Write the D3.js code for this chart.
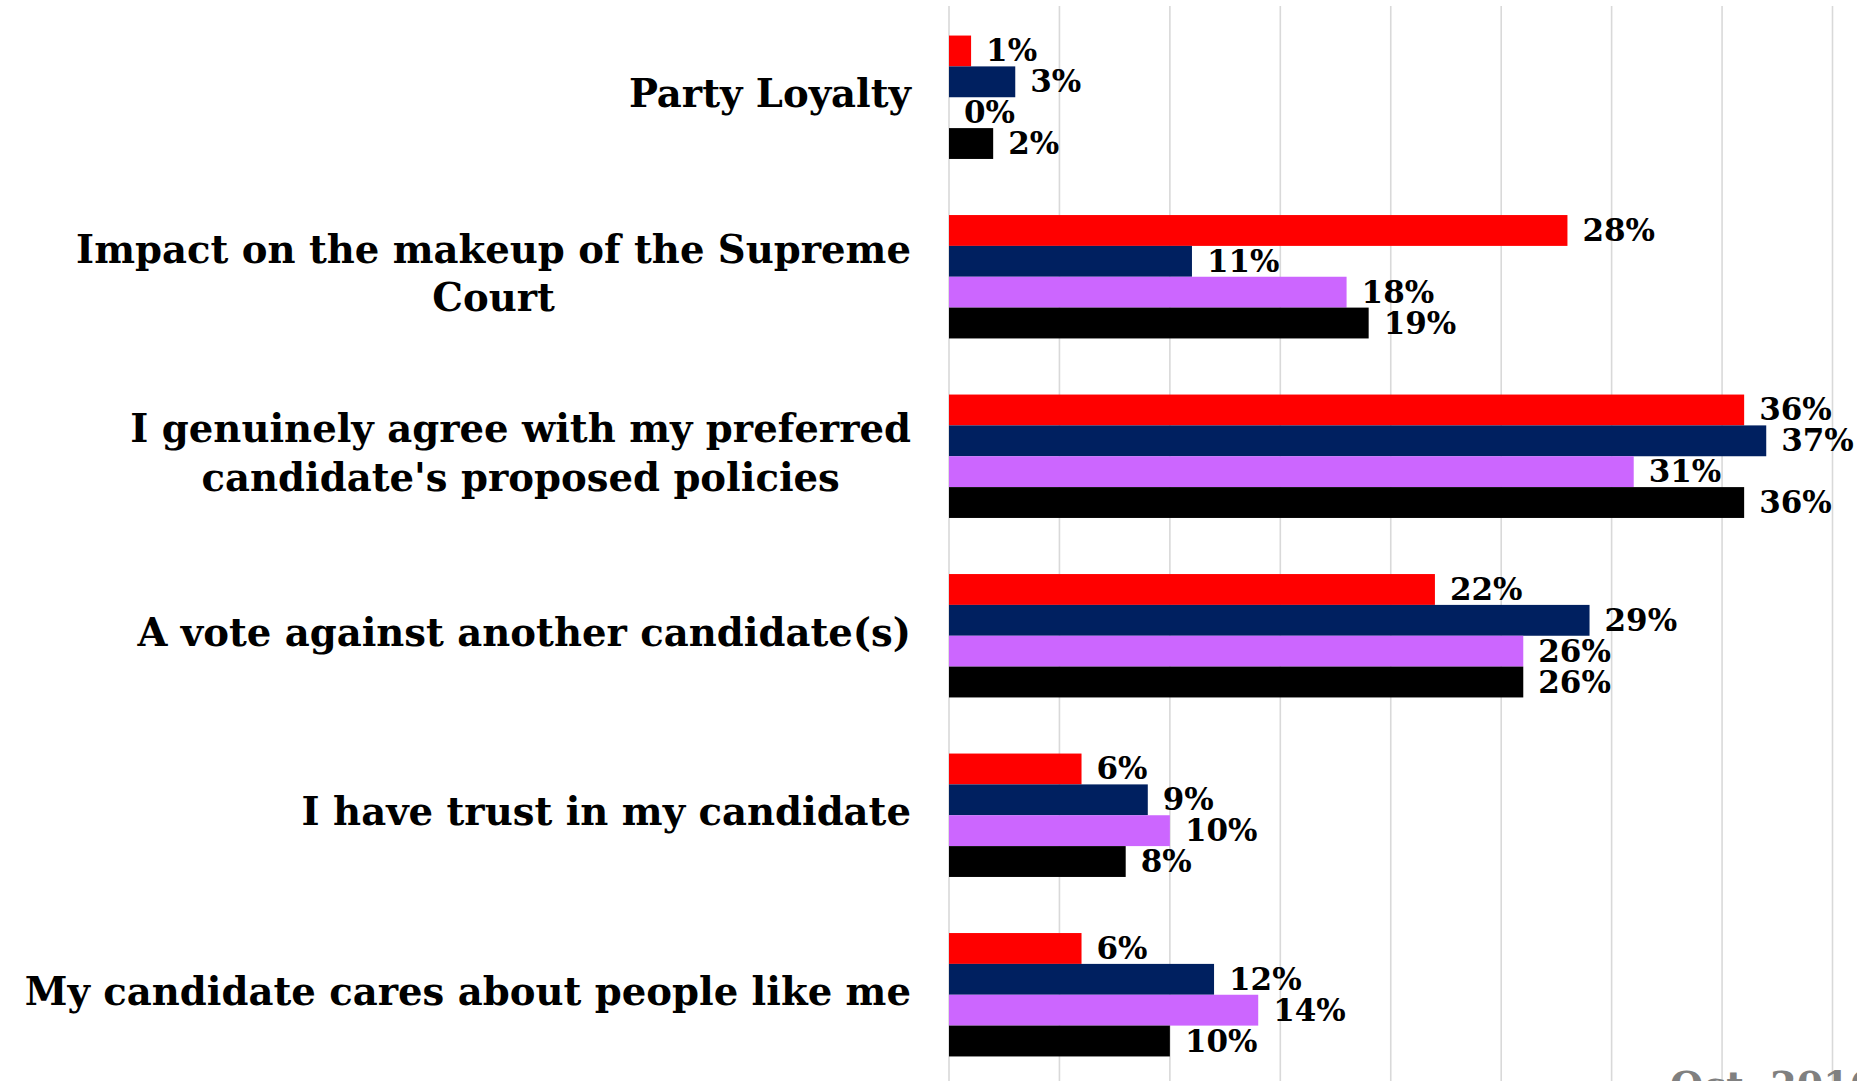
<!DOCTYPE html>
<html>
<head>
<meta charset="utf-8">
<script src="https://cdn.jsdelivr.net/npm/d3@7"></script>
<style>
  html, body { margin: 0; padding: 0; background: #fff; overflow: hidden; }
  svg { display: block; }
</style>
</head>
<body>
<svg id="chart" width="1857" height="1081"></svg>
<script>
// ---- data ----
const categories = [
  "Party Loyalty",
  "Impact on the makeup of the Supreme\nCourt",
  "I genuinely agree with my preferred\ncandidate's proposed policies",
  "A vote against another candidate(s)",
  "I have trust in my candidate",
  "My candidate cares about people like me"
];
const seriesKeys = ["s1", "s2", "s3", "s4"];
const seriesRed    = [1, 28, 36, 22, 6, 6];
const seriesNavy   = [3, 11, 37, 29, 9, 12];
const seriesPurple = [0, 18, 31, 26, 10, 14];
const seriesBlack  = [2, 19, 36, 26, 8, 10];
const seriesColors = ["#FF0000", "#002060", "#CC66FF", "#000000"];
const xTicks = [0, 5, 10, 15, 20, 25, 30, 35, 40];
const legendText = "Oct. 2016";

const seriesValues = [seriesRed, seriesNavy, seriesPurple, seriesBlack];

// ---- layout ----
const W = 1857, H = 1081;
const svg = d3.select("#chart");
const serif = "'DejaVu Serif', 'Liberation Serif', Georgia, serif";

const x = d3.scaleLinear().domain([0, 40]).range([949, 1832.5]);
const y = d3.scaleBand().domain(categories).range([7.5, 1084.5])
  .paddingInner(0.3125).paddingOuter(0.15625);
const ySub = d3.scaleBand().domain(seriesKeys).range([0, y.bandwidth()]);

// gridlines
svg.append("g").selectAll("line").data(xTicks).join("line")
  .attr("x1", d => x(d)).attr("x2", d => x(d))
  .attr("y1", 6).attr("y2", H)
  .attr("stroke", "#d9d9d9").attr("stroke-width", 1.6);

// bars
const groups = svg.append("g").selectAll("g").data(categories).join("g")
  .attr("transform", d => `translate(0,${y(d)})`);

groups.each(function(cat, ci) {
  const g = d3.select(this);
  seriesKeys.forEach((k, si) => {
    const v = seriesValues[si][ci];
    g.append("rect")
      .attr("x", x(0))
      .attr("y", ySub(k))
      .attr("width", x(v) - x(0))
      .attr("height", ySub.bandwidth())
      .attr("fill", seriesColors[si]);
  });
  seriesKeys.forEach((k, si) => {
    const v = seriesValues[si][ci];
    g.append("text")
      .attr("x", x(v) + 15)
      .attr("y", ySub(k) + ySub.bandwidth() / 2 + 2)
      .attr("dominant-baseline", "middle")
      .attr("font-family", serif)
      .attr("font-weight", "bold")
      .attr("font-size", 31)
      .attr("fill", "#000")
      .text(v + "%");
  });
});

// category labels
const labelRight = 911;
const lineH = 48.5;
categories.forEach(cat => {
  const lines = cat.split("\n");
  const t = svg.append("text")
    .attr("font-family", serif)
    .attr("font-weight", "bold")
    .attr("font-size", 38.6)
    .attr("fill", "#000")
    .attr("text-anchor", "middle");
  const cy = y(cat) + y.bandwidth() / 2;
  const spans = lines.map((ln, i) => t.append("tspan")
    .attr("y", cy + (i - (lines.length - 1) / 2) * lineH)
    .attr("dominant-baseline", "middle")
    .text(ln));
  let maxW = 0;
  spans.forEach(s => { maxW = Math.max(maxW, s.node().getComputedTextLength()); });
  let cx = labelRight - maxW / 2;
  if (cx - maxW / 2 < 14) cx = 14 + maxW / 2;
  spans.forEach(s => s.attr("x", cx));
});

// legend text (cut off at the bottom, as in the reference)
svg.append("text")
  .attr("x", 1670).attr("y", 1098)
  .attr("font-family", serif)
  .attr("font-weight", "bold")
  .attr("font-size", 38)
  .attr("fill", "#808080")
  .text(legendText);
</script>
</body>
</html>
